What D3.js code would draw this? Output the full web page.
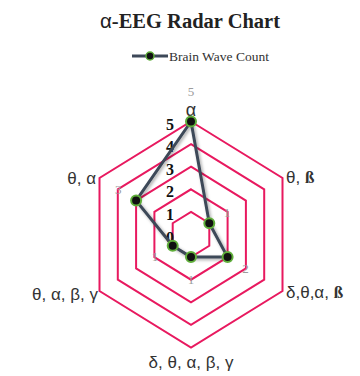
<!DOCTYPE html>
<html>
<head>
<meta charset="utf-8">
<script src="https://cdn.jsdelivr.net/npm/d3@7"></script>
<style>
  html, body { margin: 0; padding: 0; background: #fff; }
  svg { display: block; }
</style>
</head>
<body>
<svg id="chart" width="360" height="376"></svg>
<script>
// Axis categories (clockwise from the top) and the single series
const axisLabels = ["α", "θ, ß", "δ,θ,α, ß", "δ, θ, α, β, γ", "θ, α, β, γ", "θ, α"];
const seriesName = "Brain Wave Count";
const values = [5, 1, 2, 1, 1, 3];
const levelTicks = [0, 1, 2, 3, 4, 5];
const ringLevels = [1, 2, 3, 4, 5];

const svg = d3.select("#chart");
const cx = 191, cy = 234.5;
const xSquash = 0.935;
const r = d3.scaleLinear().domain([0, 5]).range([0, 113]);
const angle = d3.scaleLinear().domain([0, axisLabels.length]).range([0, 2 * Math.PI]);

function pt(i, rad) {
  const a = angle(i);
  return [cx + rad * Math.sin(a) * xSquash, cy - rad * Math.cos(a)];
}

// soft shadow for the series line
const defs = svg.append("defs");
const f = defs.append("filter").attr("id", "shadow").attr("x", "-20%").attr("y", "-20%").attr("width", "140%").attr("height", "140%");
f.append("feDropShadow").attr("dx", 1.5).attr("dy", 1.5).attr("stdDeviation", 1.5).attr("flood-color", "#000").attr("flood-opacity", 0.35);

// Title
const title = svg.append("text").attr("x", 190).attr("y", 28).attr("text-anchor", "middle")
  .attr("font-family", "Liberation Serif").attr("font-weight", "bold").attr("font-size", 20.5).attr("fill", "#222");
title.append("tspan").attr("font-family", "Liberation Sans").attr("font-weight", "normal").text("α");
title.append("tspan").text("-EEG Radar Chart");

// Legend
const lg = svg.append("g");
lg.append("line").attr("x1", 132).attr("x2", 168).attr("y1", 56).attr("y2", 56)
  .attr("stroke", "#3d4858").attr("stroke-width", 3);
lg.append("circle").attr("cx", 150).attr("cy", 56).attr("r", 4)
  .attr("fill", "#111").attr("stroke", "#5fae3a").attr("stroke-width", 1.5);
lg.append("text").attr("x", 169).attr("y", 60.5).attr("font-family", "Liberation Serif")
  .attr("font-size", 13.5).attr("fill", "#333").text(seriesName);

// Hexagonal grid rings
const ringLine = d3.line();
svg.append("g").selectAll("path").data(ringLevels).join("path")
  .attr("d", lv => ringLine(axisLabels.map((_, i) => pt(i, r(lv)))) + "Z")
  .attr("fill", "none").attr("stroke", "#e8195f").attr("stroke-width", 2);

// Level labels along the top axis
svg.append("g").selectAll("text").data(levelTicks).join("text")
  .attr("x", 170).attr("y", d => cy - r(d) + 8)
  .attr("text-anchor", "middle").attr("font-family", "Liberation Serif")
  .attr("font-weight", "bold").attr("font-size", 16).attr("fill", "#111")
  .text(d => d);

// Axis category labels
const labelPos = [
  { x: 191, y: 116, anchor: "middle" },
  { x: 286, y: 183, anchor: "start" },
  { x: 286, y: 298, anchor: "start" },
  { x: 191, y: 368, anchor: "middle" },
  { x: 98, y: 300, anchor: "end" },
  { x: 96, y: 184, anchor: "end" }
];
const labG = svg.append("g");
axisLabels.forEach((lab, i) => {
  const t = labG.append("text").attr("x", labelPos[i].x).attr("y", labelPos[i].y)
    .attr("text-anchor", labelPos[i].anchor).attr("font-family", "Liberation Sans")
    .attr("font-size", i === 0 ? 18 : 17).attr("fill", "#333");
  lab.split(/(ß)/).filter(s => s.length).forEach(part => {
    const ts = t.append("tspan").text(part);
    if (part === "ß") ts.attr("font-family", "Liberation Serif").attr("font-weight", "bold");
  });
});

// Series polygon
const pts = values.map((v, i) => pt(i, r(v)));
svg.append("path").attr("d", d3.line()(pts) + "Z")
  .attr("fill", "none").attr("stroke", "#3d4858").attr("stroke-width", 3)
  .attr("stroke-linejoin", "round").attr("filter", "url(#shadow)");

// Value labels just outside each point
svg.append("g").selectAll("text").data(values).join("text")
  .attr("x", (v, i) => pt(i, r(v) + 22)[0])
  .attr("y", (v, i) => i === 0 ? pt(i, r(v) + 26)[1] : pt(i, r(v) + 22)[1] + 4.5)
  .attr("text-anchor", "middle").attr("font-family", "Liberation Serif")
  .attr("font-size", 13).attr("fill", "#9c9c9c").text(v => v);

// Point markers
svg.append("g").selectAll("circle").data(pts).join("circle")
  .attr("cx", d => d[0]).attr("cy", d => d[1]).attr("r", 5)
  .attr("fill", "#111").attr("stroke", "#5fae3a").attr("stroke-width", 2);
</script>
</body>
</html>
